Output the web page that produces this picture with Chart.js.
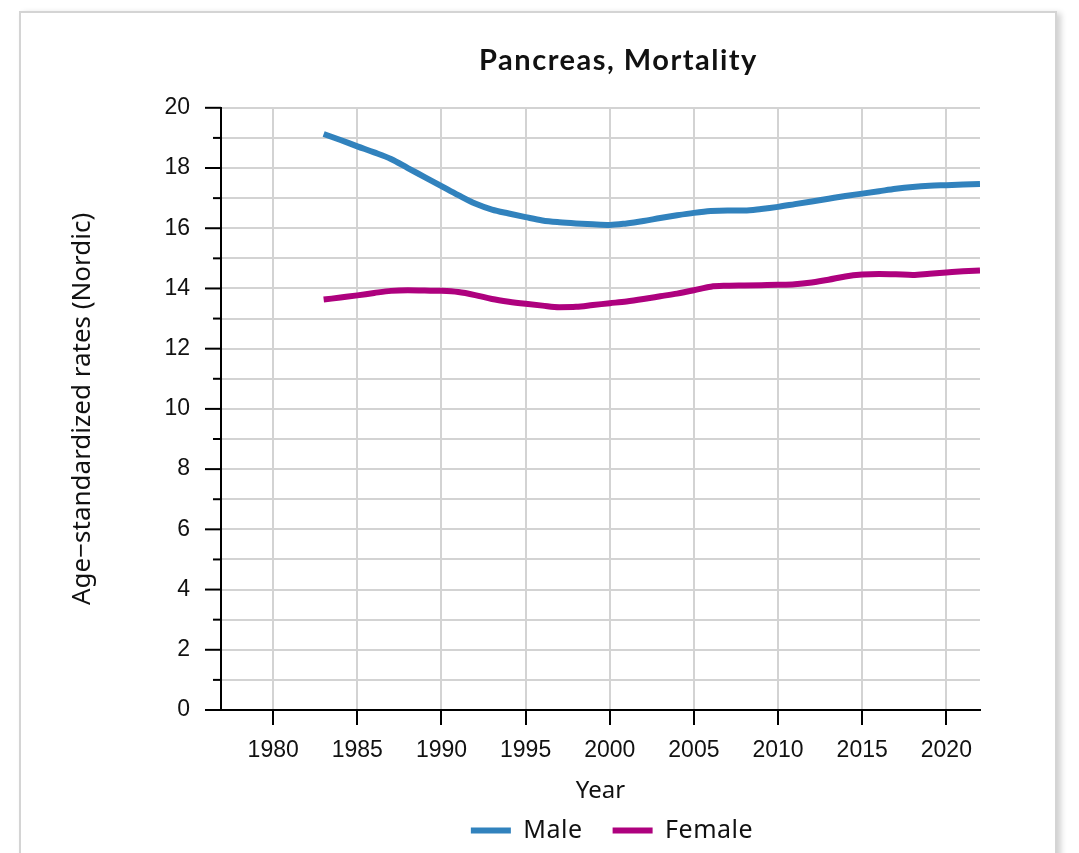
<!DOCTYPE html>
<html>
<head>
<meta charset="utf-8">
<script src="https://cdn.jsdelivr.net/npm/chart.js@4.4.1/dist/chart.umd.min.js"></script>
<style>
  body { margin: 0; background: #fff; overflow: hidden; }
  #card {
    position: absolute; left: 19px; top: 11px; width: 1034px; height: 900px;
    border: 2px solid #d4d4d4; box-shadow: 4px 2px 6px rgba(0,0,0,0.18); background: #fff;
  }
  #wrap { position: absolute; left: 0; top: 0; width: 1079px; height: 853px; }
</style>
</head>
<body>
<div id="card"></div>
<div id="wrap"><canvas id="chart"></canvas></div>
<script>
const years = [1983, 1984, 1985, 1986, 1987, 1988, 1989, 1990, 1991, 1992,
  1993, 1994, 1995, 1996, 1997, 1998, 1999, 2000, 2001, 2002,
  2003, 2004, 2005, 2006, 2007, 2008, 2009, 2010, 2011, 2012,
  2013, 2014, 2015, 2016, 2017, 2018, 2019, 2020, 2021, 2022];

const male = [19.13, 18.93, 18.72, 18.52, 18.30, 18.00, 17.70, 17.40, 17.10, 16.82,
  16.62, 16.49, 16.37, 16.26, 16.20, 16.16, 16.13, 16.11, 16.16, 16.24,
  16.34, 16.43, 16.51, 16.57, 16.59, 16.59, 16.64, 16.71, 16.80, 16.89,
  16.98, 17.07, 17.15, 17.23, 17.31, 17.37, 17.41, 17.43, 17.45, 17.47];

const female = [13.63, 13.70, 13.77, 13.85, 13.92, 13.94, 13.93, 13.92, 13.88, 13.78,
  13.65, 13.56, 13.49, 13.43, 13.38, 13.39, 13.45, 13.51, 13.57, 13.65,
  13.74, 13.83, 13.94, 14.06, 14.09, 14.10, 14.11, 14.12, 14.14, 14.20,
  14.29, 14.40, 14.46, 14.48, 14.47, 14.45, 14.49, 14.53, 14.57, 14.60];

const yearTicks = [1980, 1985, 1990, 1995, 2000, 2005, 2010, 2015, 2020];
const rateTicks = [0, 2, 4, 6, 8, 10, 12, 14, 16, 18, 20];

const toPoints = vals => vals.map((v, i) => ({ x: years[i], y: v }));

// short ticks on odd values, long ticks on labelled ones
const yTickMarks = {
  id: 'yTickMarks',
  afterDraw(chart) {
    const ys = chart.scales.y;
    const ctx = chart.ctx;
    ctx.save();
    ctx.strokeStyle = '#000';
    ctx.lineWidth = 2;
    for (let v = 0; v <= 20; v++) {
      const py = ys.getPixelForValue(v);
      const len = rateTicks.includes(v) ? 16 : 8;
      ctx.beginPath();
      ctx.moveTo(ys.right - len, py);
      ctx.lineTo(ys.right, py);
      ctx.stroke();
    }
    ctx.restore();
  }
};

// title is letter-spaced and sits a bit right of centre; legend too
const nudge = {
  id: 'nudge',
  afterInit(chart) {
    const wrap = (box, dx, spacing) => {
      const orig = box.draw;
      box.draw = function (...args) {
        const ctx = this.ctx;
        ctx.save();
        ctx.translate(dx, 0);
        if (spacing) ctx.letterSpacing = spacing;
        orig.apply(this, args);
        ctx.restore();
      };
    };
    if (chart.titleBlock) wrap(chart.titleBlock, 18, '1.5px');
    if (chart.legend) wrap(chart.legend, 9, '0.5px');
  }
};

const tickFont = { family: 'Liberation Sans', size: 23 };

new Chart(document.getElementById('chart'), {
  type: 'line',
  data: {
    datasets: [
      { label: 'Male', data: toPoints(male), borderColor: '#3182bd', backgroundColor: '#3182bd',
        borderWidth: 6, pointRadius: 0, cubicInterpolationMode: 'monotone' },
      { label: 'Female', data: toPoints(female), borderColor: '#ae017e', backgroundColor: '#ae017e',
        borderWidth: 6, pointRadius: 0, cubicInterpolationMode: 'monotone' }
    ]
  },
  options: {
    responsive: true,
    maintainAspectRatio: false,
    animation: false,
    layout: { padding: { left: 0, right: 99, top: 0, bottom: 0 } },
    plugins: {
      title: {
        display: true,
        fullSize: false,
        text: 'Pancreas, Mortality',
        color: '#111',
        font: { family: 'Lato', size: 29, weight: 'bold' },
        padding: { top: 43, bottom: 30 }
      },
      legend: {
        position: 'bottom',
        fullSize: false,
        labels: {
          color: '#111',
          font: { family: 'Noto Sans', size: 25 },
          usePointStyle: true,
          pointStyle: 'line',
          pointStyleWidth: 40,
          padding: 30
        }
      },
      tooltip: { enabled: false }
    },
    scales: {
      x: {
        type: 'linear',
        min: 1976.9,
        max: 2022,
        afterFit: s => { s.height = 78; },
        afterBuildTicks: s => { s.ticks = yearTicks.map(v => ({ value: v })); },
        ticks: { font: tickFont, color: '#111', padding: 12, autoSkip: false,
          callback: v => String(v) },
        grid: { color: '#d3d3d3', lineWidth: 2, tickColor: '#000', tickLength: 15, tickWidth: 2 },
        border: { color: '#000', width: 2 },
        title: { display: true, text: 'Year', color: '#111',
          font: { family: 'Noto Sans', size: 24 }, padding: { top: 0, bottom: -17.4 } }
      },
      y: {
        min: 0,
        max: 20,
        afterFit: s => { s.width = 221; },
        afterBuildTicks: s => {
          const t = [];
          for (let v = 0; v <= 20; v++) t.push({ value: v });
          s.ticks = t;
        },
        ticks: { font: tickFont, color: '#111', padding: 31, autoSkip: false,
          callback: v => rateTicks.includes(v) ? String(v) : '' },
        grid: { color: '#d3d3d3', lineWidth: 2, drawTicks: false },
        border: { color: '#000', width: 2 },
        title: { display: true, text: 'Age\u2212standardized rates (Nordic)', color: '#111',
          font: { family: 'Noto Sans', size: 26 }, padding: { top: 67, bottom: 0 } }
      }
    }
  },
  plugins: [yTickMarks, nudge]
});
</script>
</body>
</html>
